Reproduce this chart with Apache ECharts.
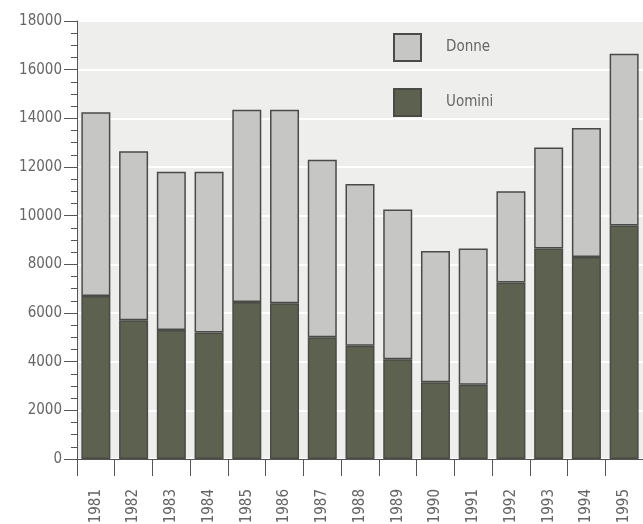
<!DOCTYPE html>
<html>
<head>
<meta charset="utf-8">
<script src="https://cdn.jsdelivr.net/npm/echarts@6/dist/echarts.min.js"></script>
<style>
html,body{margin:0;padding:0;background:#fff;}
#c{width:643px;height:524px;}
</style>
</head>
<body>
<div id="c"></div>
<script>
var years = ['1981','1982','1983','1984','1985','1986','1987','1988','1989','1990','1991','1992','1993','1994','1995'];
var uomini = [6700, 5700, 5300, 5200, 6450, 6400, 5000, 4650, 4100, 3150, 3050, 7250, 8650, 8300, 9600];
var totale = [14250, 12650, 11800, 11800, 14350, 14350, 12300, 11300, 10250, 8550, 8650, 11000, 12800, 13600, 16650];
var donne = totale.map(function(t, i){ return t - uomini[i]; });

var FONT = "'Liberation Sans Narrow', 'DejaVu Sans Condensed', 'Liberation Sans', sans-serif";
var chart = echarts.init(document.getElementById('c'), null, {renderer:'canvas'});
chart.setOption({
  animation: false,
  backgroundColor: '#ffffff',
  grid: {left: 77, right: 0, top: 21, bottom: 65, show: true, backgroundColor: '#eeeeec', borderWidth: 0, outerBoundsMode: 'none', containLabel: false},
  legend: {
    data: ['Donne', 'Uomini'],
    orient: 'vertical',
    left: 393, top: 33,
    itemWidth: 27, itemHeight: 27, itemGap: 26,
    icon: 'rect',
    padding: 0,
    textStyle: {fontFamily: FONT, fontSize: 15, color: '#666', padding: [0,0,0,20]}
  },
  xAxis: {
    type: 'category',
    data: years,
    axisLine: {lineStyle: {color: '#555', width: 1}},
    axisTick: {show: true, interval: 0, length: 17, lineStyle: {color: '#555'}},
    axisLabel: {rotate: 90, margin: 30, fontFamily: FONT, fontSize: 15, color: '#666', interval: 0}
  },
  yAxis: {
    type: 'value',
    min: 0, max: 18000, interval: 2000,
    axisLine: {show: true, lineStyle: {color: '#555', width: 1}},
    axisTick: {show: true, length: 13, lineStyle: {color: '#555'}},
    minorTick: {show: true, splitNumber: 4, length: 6, lineStyle: {color: '#555'}},
    axisLabel: {margin: 15, fontFamily: FONT, fontSize: 15, color: '#666', formatter: function(v){ return String(v); }},
    splitLine: {show: true, lineStyle: {color: '#ffffff', width: 2}}
  },
  series: [
    {
      name: 'Uomini', type: 'bar', stack: 'tot', data: uomini, barWidth: 29, z: 3,
      itemStyle: {color: '#5c6150', borderColor: '#4a4b46', borderWidth: 1.5}
    },
    {
      name: 'Donne', type: 'bar', stack: 'tot', data: donne, barWidth: 29, z: 2,
      itemStyle: {color: '#c6c7c4', borderColor: '#4a4b46', borderWidth: 1.5}
    }
  ]
});
</script>
</body>
</html>
